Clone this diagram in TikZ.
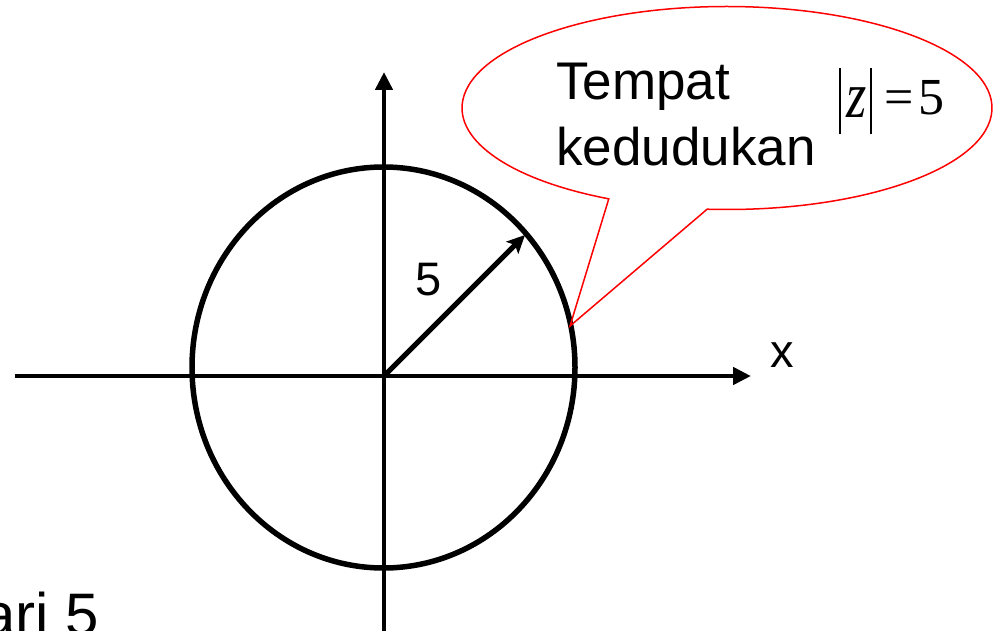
\documentclass[tikz,border=0pt]{standalone}
\usepackage{fontspec}
\setmainfont{Liberation Sans}
\newfontfamily\timesfont{Liberation Serif}
\usepackage{graphicx}
\usetikzlibrary{arrows.meta,calc,positioning}

\newcommand{\modbar}{\rule[-19pt]{1.6pt}{66pt}}

\begin{document}
\begin{tikzpicture}[x=1pt, y=1pt,
  axis/.style={line width=4.5pt, -{Triangle[length=18pt,width=17pt]}},
  lbl/.style={inner sep=0pt, font=\fontsize{47}{56}\selectfont},
  txt/.style={inner sep=0pt, anchor=base west, font=\fontsize{53}{66}\selectfont},
  callout/.style={draw=red, line width=1.5pt, line join=miter}]
\useasboundingbox (0,0) rectangle (995,630);
\clip (0,0) rectangle (995,630);
% axes
\coordinate (o) at (384,254);
\coordinate (xl) at (15,254);
\coordinate (xr) at (751,254);
\coordinate (yb) at (384,-5);
\coordinate (yt) at (384,558);
\draw[axis] (xl) -- (xr);
\draw[axis] (yb) -- (yt);
\node[lbl] (xlab) at (782,275) {x};
% circle and radius
\draw[line width=5.5pt] (383.5,262.5) ellipse [x radius=191.5, y radius=200.5];
\coordinate (r) at (525,395);
\draw[line width=5pt, -{Stealth[length=18pt,width=17pt,inset=4pt]}] (o) -- (r);
\node[lbl] (rad) at (428.5,350) {5};
% callout
\coordinate (cc) at (727,522);
\coordinate (tip) at (570,304);
\draw[callout] ($(cc)+(243.5:265 and 101.5)$) -- (tip) -- ($(cc)+(265.7:265 and 101.5)$)
  arc[start angle=265.7, end angle=603.5, x radius=265, y radius=101.5] -- cycle;
\node[txt] (tempat) at (556,530.5) {Tempat};
\node[txt] (kedudukan) at (556,464.5) {kedudukan};
\node[inner sep=0pt, anchor=base west, font=\timesfont\fontsize{52}{60}\selectfont] (modz) at (839,515)
  {\modbar\kern6pt\raisebox{-3pt}{\scalebox{1}[1.25]{\itshape z}}\kern3pt\modbar\kern13pt=\kern5pt5};
% cut-off text at the bottom
\node[inner sep=0pt, anchor=base east, font=\fontsize{60}{70}\selectfont] (jari) at (99,-5) {ari 5};
\end{tikzpicture}
\end{document}
